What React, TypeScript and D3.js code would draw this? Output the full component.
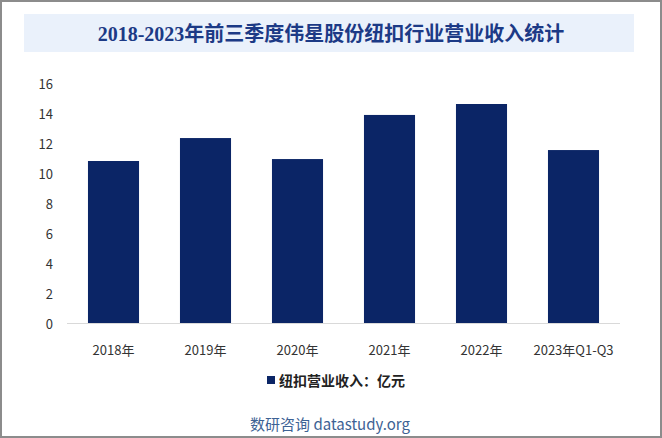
import React, { useEffect, useRef } from "react";
import * as d3 from "d3";

const categories = ["2018年", "2019年", "2020年", "2021年", "2022年", "2023年Q1-Q3"];
const revenue = [10.8, 12.33, 10.93, 13.87, 14.6, 11.53];
const yTicks = [0, 2, 4, 6, 8, 10, 12, 14, 16];

const title = "2018-2023年前三季度伟星股份纽扣行业营业收入统计";
const legendLabel = "纽扣营业收入：亿元";
const footer = "数研咨询 datastudy.org";

const App = () => {
  const svgRef = useRef<SVGSVGElement>(null);

  useEffect(() => {
    const svg = d3.select(svgRef.current);
    svg.selectAll("*").remove();

    const width = 662;
    const height = 438;
    const sans = "'Noto Sans CJK SC', 'Noto Sans', sans-serif";

    // frame
    svg
      .append("rect")
      .attr("x", 1)
      .attr("y", 1)
      .attr("width", width - 2)
      .attr("height", height - 2)
      .attr("fill", "#fff")
      .attr("stroke", "#8c8c8c")
      .attr("stroke-width", 2);

    // title banner
    svg
      .append("rect")
      .attr("x", 24)
      .attr("y", 14)
      .attr("width", 610)
      .attr("height", 38)
      .attr("fill", "#eaf1fb");

    svg
      .append("text")
      .attr("x", 331)
      .attr("y", 34)
      .attr("text-anchor", "middle")
      .attr("dominant-baseline", "central")
      .attr("font-family", "'Liberation Serif', 'Noto Sans CJK SC', serif")
      .attr("font-size", 20)
      .attr("font-weight", "bold")
      .attr("fill", "#1c3a86")
      .text(title);

    // step 92, bar width ~51
    const x = d3.scaleBand().domain(categories).range([67.5, 619.5]).paddingInner(0.445).paddingOuter(0.2225);
    const y = d3.scaleLinear().domain([0, 16]).range([323, 83]);

    // bars
    svg
      .append("g")
      .selectAll("rect")
      .data(revenue)
      .join("rect")
      .attr("x", (_, i) => x(categories[i])!)
      .attr("y", (d) => y(d))
      .attr("width", x.bandwidth())
      .attr("height", (d) => y(0) - y(d))
      .attr("fill", "#0b2566");

    // x axis line
    svg
      .append("line")
      .attr("x1", 67)
      .attr("x2", 620)
      .attr("y1", y(0) + 0.5)
      .attr("y2", y(0) + 0.5)
      .attr("stroke", "#d9d9d9");

    // y tick labels
    svg
      .append("g")
      .selectAll("text")
      .data(yTicks)
      .join("text")
      .attr("x", 53)
      .attr("y", (d) => y(d))
      .attr("text-anchor", "end")
      .attr("dominant-baseline", "central")
      .attr("font-family", sans)
      .attr("font-size", 13)
      .attr("fill", "#333")
      .text((d) => d);

    // x labels
    svg
      .append("g")
      .selectAll("text")
      .data(categories)
      .join("text")
      .attr("x", (d) => x(d)! + x.bandwidth() / 2)
      .attr("y", 349)
      .attr("text-anchor", "middle")
      .attr("dominant-baseline", "central")
      .attr("font-family", sans)
      .attr("font-size", 13)
      .attr("fill", "#333")
      .text((d) => d);

    // legend
    svg
      .append("rect")
      .attr("x", 267)
      .attr("y", 376)
      .attr("width", 8)
      .attr("height", 8)
      .attr("fill", "#0b2566");

    svg
      .append("text")
      .attr("x", 279)
      .attr("y", 380)
      .attr("dominant-baseline", "central")
      .attr("font-family", sans)
      .attr("font-size", 14)
      .attr("font-weight", "bold")
      .attr("fill", "#222")
      .text(legendLabel);

    // footer
    svg
      .append("text")
      .attr("x", 330)
      .attr("y", 423)
      .attr("text-anchor", "middle")
      .attr("dominant-baseline", "central")
      .attr("font-family", sans)
      .attr("font-size", 15)
      .attr("fill", "#3d6294")
      .text(footer);
  }, []);

  return (
    <div style={{ position: "absolute", left: 0, top: 0 }}>
      <svg ref={svgRef} width={662} height={438} style={{ display: "block" }} />
    </div>
  );
};

export default App;
